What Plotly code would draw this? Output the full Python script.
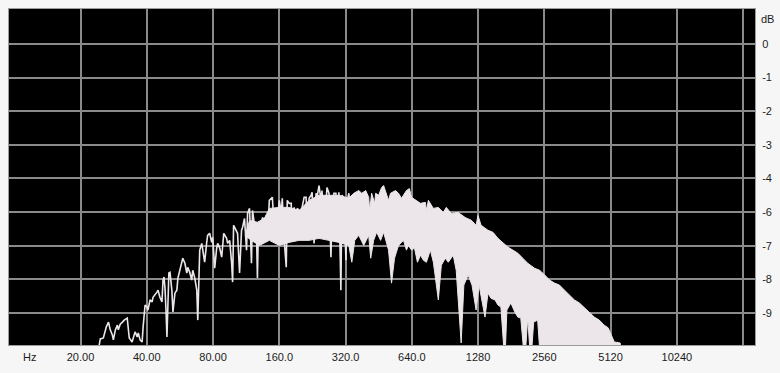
import plotly.graph_objects as go

# ---- axis ticks ----
x_tick_vals = [20, 40, 80, 160, 320, 640, 1280, 2560, 5120, 10240, 20480]
x_tick_text = ["20.00", "40.00", "80.00", "160.0", "320.0", "640.0", "1280", "2560", "5120", "10240", ""]
y_tick_vals = [0, -10, -20, -30, -40, -50, -60, -70, -80]
y_tick_text = ["0", "-1", "-2", "-3", "-4", "-6", "-7", "-8", "-9"]

# ---- spectrum trace (low / mid band, drawn as a line), Hz and dB ----
line_freq = [23.5, 24.6, 25.4, 26.2, 26.8, 27.3, 27.9, 28.2, 28.8, 29.4, 29.7, 30.3, 31.0, 31.6, 32.6,
             32.9, 33.3, 34.3, 34.7, 35.4, 36.2, 36.6, 37.3, 38.1, 38.5, 38.9, 39.3, 40.1, 40.5, 41.4,
             42.3, 42.7, 43.6, 44.5, 45.0, 45.9, 46.9, 47.4, 47.9, 48.4, 48.9, 49.4, 50.4, 51.0, 52.0,
             52.6, 53.7, 54.8, 55.4, 56.5, 57.7, 58.3, 59.6, 60.8, 61.4, 62.7, 64.0, 64.7, 66.1, 67.5,
             68.2, 69.6, 71.1, 71.8, 73.3, 74.8, 75.6, 77.2, 78.9, 79.7, 81.4, 83.1, 84.0, 85.8, 87.6,
             89.5, 92.2, 93.2, 95.2, 97.2, 98.2, 99.2, 101.3, 103.4, 105.6, 107.8, 109.0, 111.2, 113.6,
             114.8, 117.2, 119.6, 120.9, 123.4, 126.0, 127.3, 128.6, 132.7, 134.1, 136.9, 139.8, 141.3,
             144.2, 147.3, 148.8, 151.9, 155.1, 156.7, 160.0, 163.4, 165.1, 168.5, 172.1, 173.9, 177.5,
             181.3, 183.2, 187.0, 190.9, 192.9, 197.0, 201.1, 203.2, 207.5, 211.8, 214.1, 218.6, 223.2,
             225.5, 230.2, 235.1, 237.5, 242.5, 247.6, 250.2, 255.4, 260.8, 263.5, 269.0, 274.7, 277.6,
             283.4, 289.3, 292.4, 298.5, 304.8, 308.0, 314.4, 321.4, 324.4, 331.2, 338.1, 341.7, 348.8,
             356.2, 359.9]
line_db = [-95.0, -87.7, -87.4, -84.1, -82.7, -85.0, -86.5, -88.0, -85.0, -83.6, -85.0, -83.3, -82.7,
           -82.1, -81.5, -84.1, -87.4, -88.6, -87.4, -85.6, -87.1, -85.9, -88.0, -88.6, -84.1, -81.2,
           -77.6, -78.2, -79.1, -76.1, -76.7, -75.3, -74.7, -73.8, -73.2, -75.3, -76.7, -70.2, -69.3,
           -72.6, -79.1, -87.1, -68.1, -67.9, -73.2, -79.7, -74.1, -73.2, -69.6, -67.3, -64.3, -63.7,
           -65.2, -68.1, -66.4, -67.9, -70.2, -67.3, -69.6, -73.2, -82.1, -61.3, -59.3, -61.3, -64.9,
           -59.3, -56.9, -56.3, -59.0, -57.5, -66.7, -60.7, -59.3, -60.7, -63.4,
           -56.3, -57.8, -59.3, -58.4, -65.2, -70.8, -53.9, -55.4, -56.3, -68.1, -55.4, -54.5, -51.9,
           -61.3, -50.4, -48.9, -65.2, -49.5, -53.9, -55.4, -69.6, -54.5, -54.5, -51.6, -52.4, -51.0,
           -57.5, -46.5, -45.9, -45.6, -55.4, -48.9, -54.5, -46.5, -50.4, -45.9, -58.4, -66.4, -46.5,
           -47.4, -47.4, -57.8, -48.6, -57.5, -48.9, -49.5, -55.4, -48.6, -45.6, -45.6, -55.4, -45.9,
           -45.0, -44.1, -59.3, -44.4, -45.6, -42.1, -46.5, -43.6, -57.5, -44.4, -42.7, -44.4, -63.4,
           -50.4, -44.4, -44.4, -57.5, -44.1, -73.2, -45.0, -45.6, -64.3, -47.4, -44.4, -50.4, -46.5,
           -48.6, -45.6, -49.5]

# ---- dense band: upper envelope (left -> right) ----
top_freq = [112.0, 117.2, 127.3, 136.9, 144.2, 160.0, 177.5, 197.0, 218.6, 242.5, 269.0,
            298.5, 331.2, 348.8, 367.4, 379.1, 395.2, 407.7, 412.0, 420.5, 434.0, 438.4, 452.4, 466.7,
            476.5, 486.5, 501.8, 512.3, 539.8, 556.8, 574.6, 605.1, 624.3, 638.0, 665.1, 700.6, 737.9,
            745.6, 761.3, 802.0, 844.8, 889.9, 918.1, 967.0, 1040.0, 1118.4, 1190.4, 1253.8, 1280.0,
            1320.6, 1420.3, 1496.1, 1575.8, 1659.9, 1748.5, 1841.7, 1940.0, 2043.4, 2152.3, 2314.8,
            2438.3, 2571.5, 2705.0, 2849.0, 3000.0, 3162.0, 3331.0, 3507.0, 3695.0, 3892.0, 4099.0,
            4319.0, 4549.0, 4790.0, 4995.0, 5146.0, 5321.0, 5663.0, 5783.0]
top_db = [-57.0, -52.5, -53.0, -51.9, -48.9, -48.6, -48.6, -49.5, -46.5, -45.0, -45.0,
          -45.0, -45.9, -44.4, -43.6, -44.4, -43.6, -45.6, -49.5, -44.4, -47.4, -44.4, -45.0, -42.7,
          -42.1, -44.1, -46.5, -44.4, -43.6, -44.4, -45.9, -43.6, -43.0, -45.6, -46.5, -47.4, -47.1,
          -49.5, -46.5, -48.9, -48.6, -50.1, -48.6, -50.4, -50.1, -51.6, -52.4, -53.9, -51.0,
          -53.9, -55.4, -56.0, -57.8, -59.0, -60.4, -61.3, -62.2, -63.7, -65.2, -66.7,
          -67.3, -68.7, -70.2, -71.1, -71.7, -73.2, -74.7, -76.1, -77.0, -78.5, -79.7,
          -81.2, -82.1, -83.6, -84.4, -86.5, -88.6, -88.9, -95.0]

# ---- dense band: lower envelope (left -> right) ----
bot_freq = [112.0, 120.0, 130.0, 144.2, 160.0, 177.5, 197.0, 218.6, 242.5, 269.0, 298.5, 331.2,
            341.7, 352.5, 367.4, 387.1, 407.7, 416.3, 429.4, 443.0, 461.9, 476.5, 501.8, 517.8, 534.2,
            556.8, 586.6, 605.1, 618.0, 638.0, 658.2, 678.9, 700.6, 722.8, 745.6, 777.3, 802.0, 844.8,
            871.7, 908.5, 937.3, 987.3, 1018.5, 1072.6, 1103.4, 1153.9, 1201.6, 1253.8, 1293.3, 1334.3,
            1376.6, 1420.3, 1465.2, 1527.4, 1575.8, 1625.7, 1659.9, 1694.7, 1730.3, 1803.8, 1880.4,
            1940.0, 2001.4, 2086.3, 2152.3, 2220.5, 2290.8, 2388.1, 2463.7, 2571.5, 5783.0]
bot_db = [-57.0, -58.5, -59.9, -58.4, -59.9, -59.0, -58.4, -58.4, -57.8, -58.4, -59.0, -59.9,
          -64.9, -58.4, -56.9, -59.9, -56.9, -63.7, -58.4, -56.0, -58.4, -56.0, -61.3, -71.1, -63.7,
          -59.9, -58.4, -61.3, -59.9, -61.3, -60.7, -64.9, -62.8, -64.3, -64.9, -61.3, -64.9, -76.1,
          -65.8, -63.7, -64.9, -62.8, -67.3, -88.9, -71.7, -68.7, -71.7, -79.1, -71.7, -76.1,
          -81.2, -74.1, -75.6, -76.1, -77.6, -78.2, -86.5, -95.0, -79.1, -77.0, -79.7,
          -81.2, -81.5, -95.0, -81.2, -95.0, -82.7, -82.1, -95.0, -95.0, -95.0]

SPEC = "#ece6eb"
GRID = "#8a8a8a"
FONT = dict(family="Liberation Sans, Arial, sans-serif", size=11, color="#1c1c1c")

fig = go.Figure()

# band polygon: top left->right, then bottom right->left
poly_x = top_freq + bot_freq[::-1]
poly_y = top_db + bot_db[::-1]
fig.add_trace(go.Scatter(x=poly_x, y=poly_y, mode="lines", fill="toself",
                         fillcolor=SPEC, line=dict(color=SPEC, width=1),
                         hoverinfo="skip", showlegend=False))
fig.add_trace(go.Scatter(x=line_freq, y=line_db, mode="lines",
                         line=dict(color=SPEC, width=1.6),
                         showlegend=False))

fig.update_layout(
    width=780, height=373,
    margin=dict(l=8, r=21, t=8, b=28),
    paper_bgcolor="#f6f6f6",
    plot_bgcolor="#000000",
    font=FONT,
    showlegend=False,
    xaxis=dict(type="log", range=[0.9761, 4.3655],
               tickmode="array", tickvals=x_tick_vals, ticktext=x_tick_text,
               showgrid=True, gridcolor=GRID, gridwidth=2,
               zeroline=False, ticks="", ticklabelstandoff=2,
               showline=True, linecolor="#9c9c9c", linewidth=1, mirror=True,
               tickfont=FONT),
    yaxis=dict(range=[-89.5, 10.37], side="right",
               tickmode="array", tickvals=y_tick_vals, ticktext=y_tick_text,
               showgrid=True, gridcolor=GRID, gridwidth=2,
               zeroline=False, ticks="", ticklabelstandoff=4,
               showline=True, linecolor="#9c9c9c", linewidth=1, mirror=True,
               tickfont=FONT),
    annotations=[
        dict(text="Hz", xref="paper", yref="paper", x=0, y=0, xanchor="center", yanchor="top",
             xshift=20, yshift=-4, showarrow=False, font=FONT),
        dict(text="dB", xref="paper", yref="paper", x=1, y=1, xanchor="left", yanchor="middle",
             xshift=4, yshift=-10, showarrow=False, font=FONT),
    ],
)

fig.write_html("out.html")
